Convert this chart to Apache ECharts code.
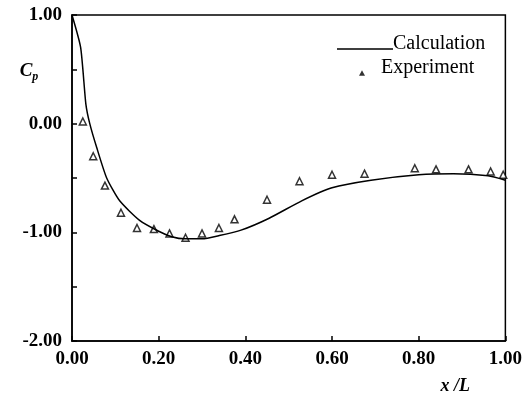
<!DOCTYPE html>
<html>
<head>
<meta charset="utf-8">
<script src="https://cdn.jsdelivr.net/npm/echarts@6/dist/echarts.min.js"></script>
<style>html,body{margin:0;padding:0;background:#fff}#c{width:525px;height:395px}</style>
</head>
<body>
<div id="c"></div>
<script>
var calcX = [0, 0.02, 0.032, 0.041, 0.057, 0.08, 0.11, 0.156, 0.20, 0.23, 0.26, 0.30, 0.34, 0.39, 0.455, 0.53, 0.60, 0.69, 0.80, 0.88, 0.96, 1.0];
var calcY = [1.0, 0.70, 0.18, 0.0, -0.22, -0.50, -0.71, -0.89, -0.99, -1.04, -1.06, -1.06, -1.03, -0.98, -0.87, -0.71, -0.59, -0.52, -0.47, -0.46, -0.48, -0.52];
var expX = [0.025, 0.049, 0.076, 0.113, 0.150, 0.189, 0.225, 0.262, 0.300, 0.339, 0.375, 0.450, 0.525, 0.600, 0.675, 0.791, 0.840, 0.915, 0.966, 0.995];
var expY = [0.02, -0.30, -0.57, -0.82, -0.96, -0.97, -1.01, -1.05, -1.01, -0.96, -0.88, -0.70, -0.53, -0.47, -0.46, -0.41, -0.42, -0.42, -0.44, -0.47];
var xTicks = [0, 0.2, 0.4, 0.6, 0.8, 1.0];
var yTicks = [-2, -1, 0, 1];

var calc = calcX.map(function (x, i) { return [x, calcY[i]]; });
var exp = expX.map(function (x, i) { return [x, expY[i]]; });
var font = '"Liberation Serif", "DejaVu Serif", serif';

var chart = echarts.init(document.getElementById('c'));
chart.setOption({
  animation: false,
  backgroundColor: '#fff',
  grid: { left: 72, right: 18, top: 15, bottom: 53, show: true, borderColor: '#000', borderWidth: 1.5, backgroundColor: 'transparent' },
  legend: [
    {
      left: 332, top: 29, itemWidth: 56, itemHeight: 12, symbolKeepAspect: true,
      textStyle: { fontFamily: font, fontSize: 20, color: '#000', padding: [0, 0, 0, -5] },
      data: [{ name: 'Calculation', icon: 'path://M28,0L28.01,0L28.01,0.01Z M0,10L56,10L56,11.5L0,11.5Z', itemStyle: { color: '#000', borderWidth: 0 } }]
    },
    {
      left: 354, top: 53, itemWidth: 6, itemHeight: 16, symbolKeepAspect: true,
      textStyle: { fontFamily: font, fontSize: 20, color: '#000', padding: [0, 0, 0, 11] },
      data: [{ name: 'Experiment', icon: 'path://M3,0L3.01,0L3.01,0.01Z M0,15.5L3,10L6,15.5Z', itemStyle: { color: '#000', borderWidth: 0 } }]
    }
  ],
  xAxis: {
    type: 'value', min: 0, max: 1, interval: 0.2,
    axisLine: { onZero: false, lineStyle: { color: '#000', width: 1.5 } },
    axisTick: { inside: true, length: 5, lineStyle: { color: '#000', width: 1.5 } },
    splitLine: { show: false },
    axisLabel: { fontFamily: font, fontSize: 19, fontWeight: 'bold', color: '#000', margin: 9,
      formatter: function (v) { return xTicks.indexOf(Math.round(v * 10) / 10) >= 0 ? v.toFixed(2) : ''; } },
    name: '{i|x /L}', nameLocation: 'end', nameGap: 0,
    nameTextStyle: { rich: { i: { fontFamily: font, fontSize: 18, fontStyle: 'italic', fontWeight: 'bold', color: '#000' } }, padding: [90, 0, 0, -65] }
  },
  yAxis: {
    type: 'value', min: -2, max: 1, interval: 0.5,
    axisLine: { onZero: false, lineStyle: { color: '#000', width: 1.5 } },
    axisTick: { inside: true, length: 5, lineStyle: { color: '#000', width: 1.5 } },
    splitLine: { show: false },
    axisLabel: { fontFamily: font, fontSize: 19, fontWeight: 'bold', color: '#000', margin: 10,
      formatter: function (v) { return yTicks.indexOf(v) >= 0 ? v.toFixed(2) : ''; } },
    name: '{c|C}{p|p}', nameLocation: 'end',
    nameTextStyle: { rich: {
      c: { fontFamily: font, fontSize: 19, fontStyle: 'italic', fontWeight: 'bold', color: '#000' },
      p: { fontFamily: font, fontSize: 12, fontStyle: 'italic', fontWeight: 'bold', color: '#000', padding: [12, 0, 0, 0] }
    }, padding: [0, 0, -83, -86] }
  },
  series: [
    { name: 'Calculation', type: 'line', data: calc, showSymbol: false, symbol: 'none', smooth: 0.2,
      lineStyle: { color: '#000', width: 1.5 }, itemStyle: { color: '#000' } },
    { name: 'Experiment', type: 'scatter', data: exp, symbol: 'triangle', symbolSize: 7,
      itemStyle: { color: '#fff', borderColor: '#000', borderWidth: 1.5 } }
  ]
});
</script>
</body>
</html>
